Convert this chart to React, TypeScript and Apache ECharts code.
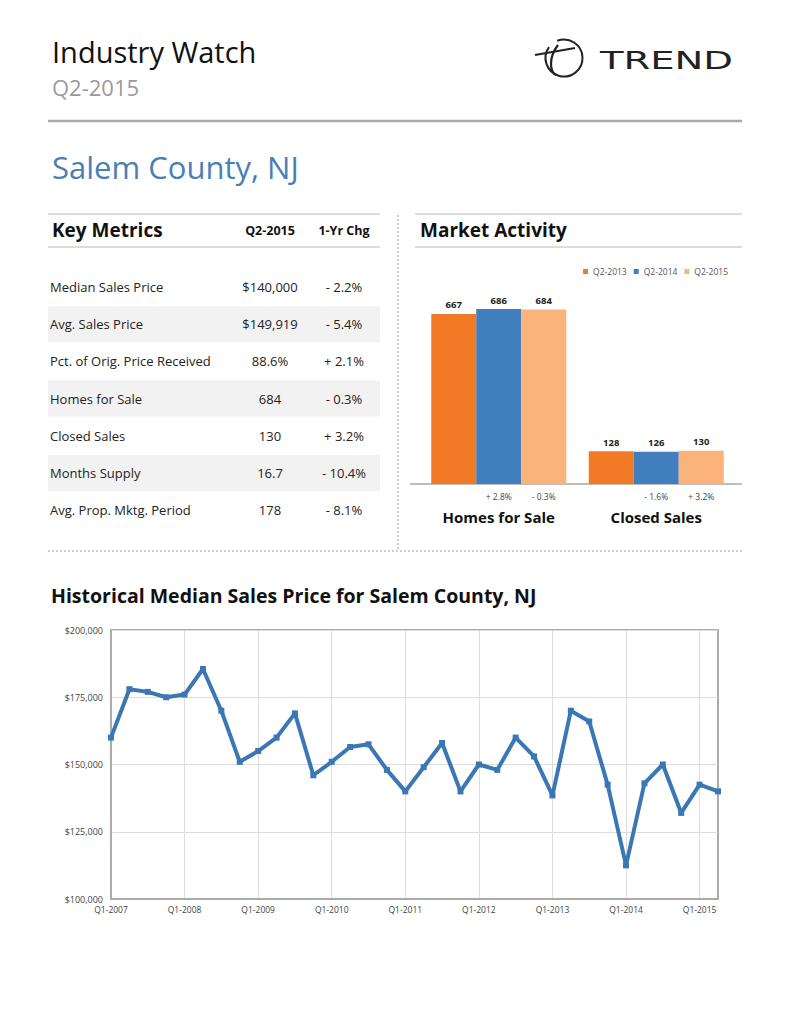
import React, { useEffect, useRef } from "react";
import * as echarts from "echarts";

const SANS = '"Open Sans", "Noto Sans", sans-serif';

// ---- Line chart data ----
const quarters = [
  "Q1-2007", "Q2-2007", "Q3-2007", "Q4-2007",
  "Q1-2008", "Q2-2008", "Q3-2008", "Q4-2008",
  "Q1-2009", "Q2-2009", "Q3-2009", "Q4-2009",
  "Q1-2010", "Q2-2010", "Q3-2010", "Q4-2010",
  "Q1-2011", "Q2-2011", "Q3-2011", "Q4-2011",
  "Q1-2012", "Q2-2012", "Q3-2012", "Q4-2012",
  "Q1-2013", "Q2-2013", "Q3-2013", "Q4-2013",
  "Q1-2014", "Q2-2014", "Q3-2014", "Q4-2014",
  "Q1-2015", "Q2-2015",
];
const medianPrices = [
  160000, 178000, 177000, 175000,
  176000, 185500, 170000, 151000,
  155000, 160000, 169000, 146000,
  151000, 156500, 157500, 148000,
  140000, 149000, 158000, 140000,
  150000, 148000, 160000, 153000,
  138500, 170000, 166000, 142500,
  112500, 143000, 150000, 132000,
  142500, 140000,
];
const priceAxisMin = 100000;
const priceAxisMax = 200000;
const priceAxisStep = 25000;

// ---- Key metrics table ----
const metricNames = [
  "Median Sales Price",
  "Avg. Sales Price",
  "Pct. of Orig. Price Received",
  "Homes for Sale",
  "Closed Sales",
  "Months Supply",
  "Avg. Prop. Mktg. Period",
];
const metricValues = ["$140,000", "$149,919", "88.6%", "684", "130", "16.7", "178"];
const metricChanges = ["- 2.2%", "- 5.4%", "+ 2.1%", "- 0.3%", "+ 3.2%", "- 10.4%", "- 8.1%"];

// ---- Market activity ----
const activityCategories = ["Homes for Sale", "Closed Sales"];
const periods = ["Q2-2013", "Q2-2014", "Q2-2015"];
const values2013 = [667, 128];
const values2014 = [686, 126];
const values2015 = [684, 130];
const change2014 = ["+ 2.8%", "- 1.6%"];
const change2015 = ["- 0.3%", "+ 3.2%"];

const periodColors = ["#f27a27", "#417ebe", "#fab37b"];
const LINE_BLUE = "#3b77b5";

function buildGraphics() {
  const g: any[] = [];
  // Header
  g.push({ type: "text", x: 52, y: 51, style: { text: "Industry Watch", fontFamily: SANS, fontSize: 29, fill: "#111", verticalAlign: "middle" } });
  g.push({ type: "text", x: 52, y: 87, style: { text: "Q2-2015", fontFamily: SANS, fontSize: 22, fill: "#9a9a9a", verticalAlign: "middle" } });
  g.push({ type: "line", shape: { x1: 48, y1: 121, x2: 742, y2: 121 }, style: { stroke: "#a9a9a9", lineWidth: 2.5 } });
  g.push({ type: "text", x: 52, y: 167, style: { text: "Salem County, NJ", fontFamily: SANS, fontSize: 31, fill: "#4a7fb6", verticalAlign: "middle" } });

  // Logo
  g.push({ type: "arc", shape: { cx: 564, cy: 58, r: 18.5, startAngle: -Math.PI * 0.62, endAngle: Math.PI * 1.2 }, style: { stroke: "#222", lineWidth: 2, fill: "none" } });
  g.push({ type: "line", shape: { x1: 535, y1: 55, x2: 575, y2: 48 }, style: { stroke: "#222", lineWidth: 1.8 } });
  g.push({ type: "bezierCurve", shape: { x1: 558, y1: 45, cpx1: 548, cpy1: 58, x2: 556, y2: 75, cpx2: 550, cpy2: 72 }, style: { stroke: "#222", lineWidth: 2.2, fill: "none" } });
  g.push({ type: "text", x: 600, y: 61, scaleX: 1.54, style: { text: "TREND", x: 0, y: 0, fontFamily: '"DejaVu Sans", sans-serif', fontSize: 25, fill: "#222", verticalAlign: "middle" } });

  // Dashed separators
  g.push({ type: "line", shape: { x1: 398, y1: 215, x2: 398, y2: 551 }, style: { stroke: "#9a9a9a", lineWidth: 1, lineDash: [2, 2] } });
  g.push({ type: "line", shape: { x1: 48, y1: 551, x2: 742, y2: 551 }, style: { stroke: "#9a9a9a", lineWidth: 1, lineDash: [2, 2] } });

  // Key metrics header
  g.push({ type: "line", shape: { x1: 48, y1: 214, x2: 380, y2: 214 }, style: { stroke: "#dcdcdc", lineWidth: 2 } });
  g.push({ type: "line", shape: { x1: 48, y1: 247, x2: 380, y2: 247 }, style: { stroke: "#dcdcdc", lineWidth: 2 } });
  g.push({ type: "text", x: 52, y: 230, style: { text: "Key Metrics", fontFamily: SANS, fontSize: 19, fontWeight: "bold", fill: "#111", verticalAlign: "middle" } });
  g.push({ type: "text", x: 270, y: 230, style: { text: "Q2-2015", fontFamily: SANS, fontSize: 12.5, fontWeight: "bold", fill: "#111", align: "center", verticalAlign: "middle" } });
  g.push({ type: "text", x: 344, y: 230, style: { text: "1-Yr Chg", fontFamily: SANS, fontSize: 12.5, fontWeight: "bold", fill: "#111", align: "center", verticalAlign: "middle" } });

  metricNames.forEach((name, i) => {
    const cy = 287 + i * 37.2;
    if (i % 2 === 1) {
      g.push({ type: "rect", shape: { x: 48, y: cy - 18, width: 332, height: 36 }, style: { fill: "#f2f2f2" }, z: -1 });
    }
    g.push({ type: "text", x: 50, y: cy, style: { text: name, fontFamily: SANS, fontSize: 13, fill: "#222", verticalAlign: "middle" } });
    g.push({ type: "text", x: 270, y: cy, style: { text: metricValues[i], fontFamily: SANS, fontSize: 13, fill: "#222", align: "center", verticalAlign: "middle" } });
    g.push({ type: "text", x: 344, y: cy, style: { text: metricChanges[i], fontFamily: SANS, fontSize: 13, fill: "#222", align: "center", verticalAlign: "middle" } });
  });

  // Market activity header
  g.push({ type: "line", shape: { x1: 415, y1: 214, x2: 742, y2: 214 }, style: { stroke: "#dcdcdc", lineWidth: 2 } });
  g.push({ type: "line", shape: { x1: 415, y1: 247, x2: 742, y2: 247 }, style: { stroke: "#dcdcdc", lineWidth: 2 } });
  g.push({ type: "text", x: 420, y: 230, style: { text: "Market Activity", fontFamily: SANS, fontSize: 19, fontWeight: "bold", fill: "#111", verticalAlign: "middle" } });
  // bar chart baseline
  g.push({ type: "line", shape: { x1: 410, y1: 484, x2: 742, y2: 484 }, style: { stroke: "#bdbdbd", lineWidth: 2 } });

  // Line chart title
  g.push({ type: "text", x: 51, y: 595, style: { text: "Historical Median Sales Price for Salem County, NJ", fontFamily: SANS, fontSize: 19.5, fontWeight: "bold", fill: "#111", verticalAlign: "middle" } });
  return g;
}

export default function App() {
  const ref = useRef<HTMLDivElement>(null);
  useEffect(() => {
    if (!ref.current) return;
    const chart = echarts.init(ref.current, undefined, { renderer: "svg" });
    const barLabel = {
      show: true,
      position: "top",
      distance: 4,
      fontFamily: SANS,
      fontSize: 9.5,
      fontWeight: "bold",
      color: "#222",
    };
    const option: any = {
      animation: false,
      backgroundColor: "#ffffff",
      textStyle: { fontFamily: SANS },
      legend: {
        data: periods,
        right: 58,
        top: 262,
        icon: "rect",
        itemWidth: 5,
        itemHeight: 5,
        itemGap: 7,
        textStyle: { fontFamily: SANS, fontSize: 8.5, color: "#555" },
      },
      grid: [
        { left: 420, top: 280, width: 315, height: 204, show: false },
        { left: 111, top: 630, width: 607, height: 269, show: true, borderColor: "#ababab", borderWidth: 2 },
      ],
      xAxis: [
        {
          gridIndex: 0,
          type: "category",
          data: activityCategories,
          axisLine: { show: false },
          axisTick: { show: false },
          axisLabel: {
            interval: 0,
            margin: 5,
            formatter: (v: string, i: number) => `{e| }{c|${change2014[i]}}{c|${change2015[i]}}\n{t|${v}}`,
            rich: {
              e: { width: 45, fontSize: 8 },
              c: { width: 45, align: "center", fontSize: 8.5, color: "#444", lineHeight: 14, fontFamily: SANS },
              t: { width: 135, align: "center", fontSize: 15, fontWeight: "bold", color: "#111", lineHeight: 28, fontFamily: SANS },
            },
          },
        },
        {
          gridIndex: 1,
          type: "category",
          data: quarters,
          boundaryGap: false,
          axisLine: { lineStyle: { color: "#ababab", width: 2 } },
          axisTick: { show: false },
          axisLabel: { interval: 3, fontSize: 8.5, color: "#444", margin: 6, fontFamily: SANS },
          splitLine: { show: true, interval: 3, lineStyle: { color: "#dedede", width: 1 } },
        },
      ],
      yAxis: [
        { gridIndex: 0, type: "value", min: 0, max: 800, show: false },
        {
          gridIndex: 1,
          type: "value",
          min: priceAxisMin,
          max: priceAxisMax,
          interval: priceAxisStep,
          axisLine: { show: true, lineStyle: { color: "#ababab", width: 2 } },
          axisTick: { show: false },
          axisLabel: {
            fontSize: 9,
            color: "#444",
            margin: 8,
            fontFamily: SANS,
            formatter: (v: number) => "$" + v.toLocaleString("en-US"),
          },
          splitLine: { lineStyle: { color: "#dedede", width: 1 } },
        },
      ],
      series: [
        { name: periods[0], type: "bar", xAxisIndex: 0, yAxisIndex: 0, data: values2013, barWidth: 45, barGap: "0%", itemStyle: { color: periodColors[0] }, label: barLabel },
        { name: periods[1], type: "bar", xAxisIndex: 0, yAxisIndex: 0, data: values2014, barWidth: 45, barGap: "0%", itemStyle: { color: periodColors[1] }, label: barLabel },
        { name: periods[2], type: "bar", xAxisIndex: 0, yAxisIndex: 0, data: values2015, barWidth: 45, barGap: "0%", itemStyle: { color: periodColors[2] }, label: barLabel },
        {
          name: "Median Sales Price",
          type: "line",
          xAxisIndex: 1,
          yAxisIndex: 1,
          data: medianPrices,
          symbol: "rect",
          symbolSize: 6,
          lineStyle: { color: LINE_BLUE, width: 4 },
          itemStyle: { color: LINE_BLUE },
        },
      ],
      graphic: buildGraphics(),
    };
    chart.setOption(option);
    return () => chart.dispose();
  }, []);
  return (
    <div
      ref={ref}
      style={{ position: "absolute", left: 0, top: 0, width: 791, height: 1024, background: "#fff" }}
    />
  );
}
